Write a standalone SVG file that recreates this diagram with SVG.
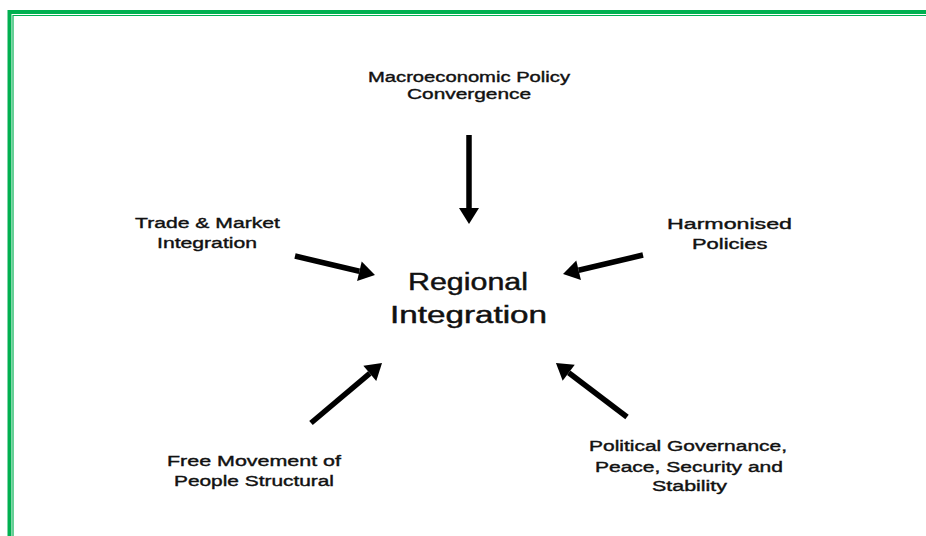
<svg xmlns="http://www.w3.org/2000/svg" width="926" height="536" viewBox="0 0 926 536">
  <defs>
    <style>
      .lbl { font-family: "Liberation Sans", Arial, sans-serif; font-size: 15.5px; fill: #111; stroke: #111; stroke-width: 0.4px; }
      .hub { font-family: "Liberation Sans", Arial, sans-serif; font-size: 23px; fill: #111; stroke: #111; stroke-width: 0.45px; }
      .edge { stroke: #000; stroke-width: 5.5; fill: none; marker-end: url(#head); }
      .frame-outer { stroke: #00b050; stroke-width: 4; fill: none; }
      .frame-inner { stroke: #00b050; stroke-width: 1.2; fill: none; }
    </style>
    <marker id="head" markerUnits="userSpaceOnUse" markerWidth="17" markerHeight="21" refX="0" refY="10" orient="auto" overflow="visible">
      <path d="M0,0 L16,10 L0,20 Z" fill="#000"/>
    </marker>
  </defs>

  <rect width="926" height="536" fill="#fff"/>

  <!-- double green frame along the top and left edges -->
  <g id="frame">
    <path class="frame-outer" d="M9.5,536 V12 H926"/>
    <path class="frame-inner" d="M13,536 V15.5 H926"/>
  </g>

  <g id="regional-integration">
    <text class="hub">
      <tspan x="408" y="290" textLength="120" lengthAdjust="spacingAndGlyphs">Regional</tspan>
      <tspan x="390" y="323" textLength="157" lengthAdjust="spacingAndGlyphs">Integration</tspan>
    </text>
  </g>

  <g id="macroeconomic-policy">
    <text class="lbl">
      <tspan x="368" y="81.5" textLength="202" lengthAdjust="spacingAndGlyphs">Macroeconomic Policy</tspan>
      <tspan x="407" y="99.3" textLength="124" lengthAdjust="spacingAndGlyphs">Convergence</tspan>
    </text>
  </g>

  <g id="trade-market">
    <text class="lbl">
      <tspan x="135" y="228" textLength="145" lengthAdjust="spacingAndGlyphs">Trade &amp; Market</tspan>
      <tspan x="157" y="247.5" textLength="100" lengthAdjust="spacingAndGlyphs">Integration</tspan>
    </text>
  </g>

  <g id="harmonised-policies">
    <text class="lbl">
      <tspan x="667" y="228.5" textLength="125" lengthAdjust="spacingAndGlyphs">Harmonised</tspan>
      <tspan x="692" y="249" textLength="75.5" lengthAdjust="spacingAndGlyphs">Policies</tspan>
    </text>
  </g>

  <g id="free-movement">
    <text class="lbl">
      <tspan x="167" y="466" textLength="174" lengthAdjust="spacingAndGlyphs">Free Movement of</tspan>
      <tspan x="174" y="485.5" textLength="160" lengthAdjust="spacingAndGlyphs">People Structural</tspan>
    </text>
  </g>

  <g id="political-governance">
    <text class="lbl">
      <tspan x="589" y="451" textLength="198" lengthAdjust="spacingAndGlyphs">Political Governance,</tspan>
      <tspan x="595" y="471.5" textLength="188" lengthAdjust="spacingAndGlyphs">Peace, Security and</tspan>
      <tspan x="652" y="491" textLength="75" lengthAdjust="spacingAndGlyphs">Stability</tspan>
    </text>
  </g>

  <!-- arrows pointing in towards the central node; lines stop at the arrowhead base -->
  <g id="connectors">
    <line class="edge" x1="469" y1="135" x2="469" y2="208"/>
    <line class="edge" x1="295" y1="256" x2="359.4" y2="271.3"/>
    <line class="edge" x1="643" y1="255" x2="578.6" y2="270.3"/>
    <line class="edge" x1="311" y1="423" x2="369.8" y2="373.3"/>
    <line class="edge" x1="627" y1="417" x2="568.7" y2="372.7"/>
  </g>
</svg>
